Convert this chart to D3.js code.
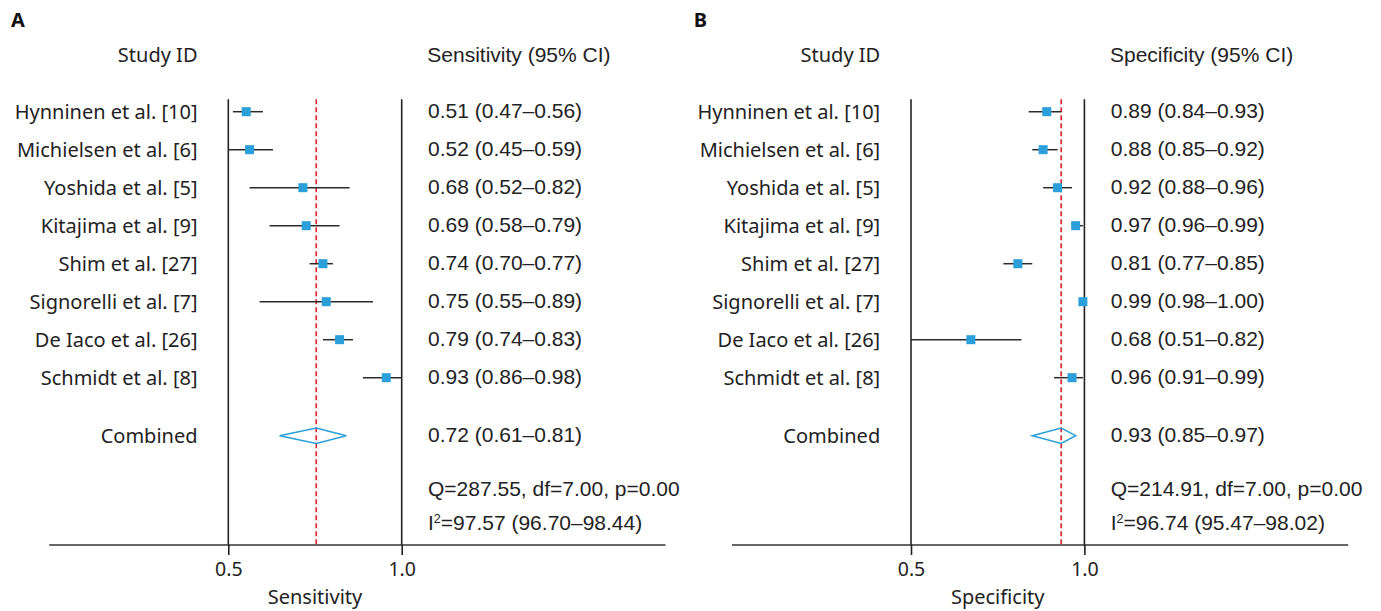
<!DOCTYPE html>
<html>
<head>
<meta charset="utf-8">
<script src="https://cdn.jsdelivr.net/npm/d3@7"></script>
<style>
  html, body { margin: 0; padding: 0; background: #fff; }
  svg { display: block; }
</style>
</head>
<body>
<svg id="chart" width="1381" height="611"></svg>
<script>
// ---------------- DATA ----------------
const studies = ["Hynninen et al. [10]", "Michielsen et al. [6]", "Yoshida et al. [5]", "Kitajima et al. [9]",
                 "Shim et al. [27]", "Signorelli et al. [7]", "De Iaco et al. [26]", "Schmidt et al. [8]"];

const sensEst = [0.51, 0.52, 0.68, 0.69, 0.74, 0.75, 0.79, 0.93];
const sensLo  = [0.47, 0.45, 0.52, 0.58, 0.70, 0.55, 0.74, 0.86];
const sensHi  = [0.56, 0.59, 0.82, 0.79, 0.77, 0.89, 0.83, 0.98];
const sensPooled = [0.72, 0.61, 0.81];   // estimate, low, high
const sensQ = "Q=287.55, df=7.00, p=0.00";
const sensI2 = "=97.57 (96.70–98.44)";

const specEst = [0.89, 0.88, 0.92, 0.97, 0.81, 0.99, 0.68, 0.96];
const specLo  = [0.84, 0.85, 0.88, 0.96, 0.77, 0.98, 0.51, 0.91];
const specHi  = [0.93, 0.92, 0.96, 0.99, 0.85, 1.00, 0.82, 0.99];
const specPooled = [0.93, 0.85, 0.97];
const specQ = "Q=214.91, df=7.00, p=0.00";
const specI2 = "=96.74 (95.47–98.02)";

const tickValues = [0.5, 1.0];
const tickLabels = ["0.5", "1.0"];

// ---------------- DRAWING ----------------
const svg = d3.select("#chart");
const labelFont = "'Noto Sans', 'Open Sans', sans-serif";
const valueFont = "'Liberation Sans', Arial, sans-serif";
const textColor = "#222";
const blue = "#2a9fd9";
const labelSize = 20;
const valueSize = 21;

const fmt = d3.format(".2f");
const ciText = (e, l, h) => `${fmt(e)} (${fmt(l)}–${fmt(h)})`;

const rowY = d3.scalePoint().domain(d3.range(studies.length)).range([111.7, 377.7]);
const pooledY = 435.7;

function panel(cfg) {
  const g = svg.append("g").attr("transform", `translate(${cfg.dx},0)`);
  const axisX = d3.scaleLinear().domain([0.5, 1.0]).range([228.3, 401.7]);
  const dataX = d3.scaleLinear().domain([0.5, 1.0]).range(cfg.dataRange);
  const clampX = v => Math.max(axisX(0.5), Math.min(axisX(1.0), dataX(v)));

  // Panel letter
  g.append("text").attr("x", 11).attr("y", 26.7)
    .attr("font-family", labelFont).attr("font-weight", 700).attr("font-size", 20)
    .attr("fill", "#111").text(cfg.letter);

  // Headers
  g.append("text").attr("x", 197.5).attr("y", 61.7).attr("text-anchor", "end")
    .attr("font-family", labelFont).attr("font-size", labelSize).attr("fill", textColor).text("Study ID");
  g.append("text").attr("x", 427.3).attr("y", 62).attr("font-family", valueFont)
    .attr("font-size", valueSize).attr("fill", textColor).text(cfg.header);

  // Horizontal axis line
  g.append("line").attr("x1", 49.3).attr("x2", 665.5).attr("y1", 545).attr("y2", 545)
    .attr("stroke", "#666").attr("stroke-width", 2);

  // Vertical reference lines at tick values
  g.selectAll(".vref").data(tickValues).enter().append("line")
    .attr("x1", d => axisX(d)).attr("x2", d => axisX(d))
    .attr("y1", 99.3).attr("y2", 545)
    .attr("stroke", "#222").attr("stroke-width", 1.6);

  // Axis ticks and labels
  const axis = d3.axisBottom(axisX).tickValues(tickValues)
    .tickFormat((d, i) => tickLabels[i]).tickSize(10).tickPadding(8);
  const ax = g.append("g").attr("transform", "translate(0,545)").call(axis);
  ax.select(".domain").remove();
  ax.selectAll(".tick line").attr("stroke", "#222").attr("stroke-width", 1.6);
  ax.selectAll(".tick text").attr("font-family", labelFont).attr("font-size", 19.5)
    .attr("fill", textColor).attr("dy", null).attr("y", 30.5);

  // Axis title
  g.append("text").attr("x", (axisX(0.5) + axisX(1.0)) / 2).attr("y", 604)
    .attr("text-anchor", "middle").attr("font-family", labelFont).attr("font-size", labelSize)
    .attr("fill", textColor).text(cfg.axisTitle);

  // Pooled red dashed line
  g.append("line").attr("x1", dataX(cfg.pooled[0])).attr("x2", dataX(cfg.pooled[0]))
    .attr("y1", 99.3).attr("y2", 545)
    .attr("stroke", "#e3202b").attr("stroke-width", 1.6).attr("stroke-dasharray", "5,3");

  const rows = studies.map((s, i) => ({ s, i, e: cfg.est[i], l: cfg.lo[i], h: cfg.hi[i] }));

  // CI lines
  g.selectAll(".ci").data(rows).enter().append("line")
    .attr("x1", d => clampX(d.l)).attr("x2", d => clampX(d.h))
    .attr("y1", d => rowY(d.i)).attr("y2", d => rowY(d.i))
    .attr("stroke", "#2b2b2b").attr("stroke-width", 1.5);

  // Squares
  const sz = 9;
  g.selectAll(".pt").data(rows).enter().append("rect")
    .attr("x", d => dataX(d.e) - sz / 2).attr("y", d => rowY(d.i) - sz / 2)
    .attr("width", sz).attr("height", sz).attr("fill", blue);

  // Study labels
  g.selectAll(".lab").data(rows).enter().append("text")
    .attr("x", 197.5).attr("y", d => rowY(d.i) + 7.3).attr("text-anchor", "end")
    .attr("font-family", labelFont).attr("font-size", labelSize).attr("fill", textColor)
    .text(d => d.s);

  // Value texts
  g.selectAll(".val").data(rows).enter().append("text")
    .attr("x", 428).attr("y", d => rowY(d.i) + 6)
    .attr("font-family", valueFont).attr("font-size", valueSize).attr("fill", textColor)
    .text(d => ciText(d.e, d.l, d.h));

  // Combined
  g.append("text").attr("x", 197.5).attr("y", pooledY + 7.3).attr("text-anchor", "end")
    .attr("font-family", labelFont).attr("font-size", labelSize).attr("fill", textColor).text("Combined");
  const [pe, pl, ph] = cfg.pooled;
  const dh = 7.7;
  g.append("path")
    .attr("d", `M${dataX(pl)},${pooledY} L${dataX(pe)},${pooledY - dh} L${dataX(ph)},${pooledY} L${dataX(pe)},${pooledY + dh} Z`)
    .attr("fill", "none").attr("stroke", blue).attr("stroke-width", 1.5);
  g.append("text").attr("x", 428).attr("y", pooledY + 6)
    .attr("font-family", valueFont).attr("font-size", valueSize).attr("fill", textColor)
    .text(ciText(pe, pl, ph));

  // Heterogeneity
  g.append("text").attr("x", 428).attr("y", 495.5)
    .attr("font-family", valueFont).attr("font-size", valueSize).attr("fill", textColor).text(cfg.q);
  const t = g.append("text").attr("x", 428).attr("y", 530)
    .attr("font-family", valueFont).attr("font-size", valueSize).attr("fill", textColor);
  t.append("tspan").text("I");
  t.append("tspan").attr("font-size", 12.5).attr("dy", -7.5).text("2");
  t.append("tspan").attr("dy", 7.5).text(cfg.i2);
}

panel({
  dx: 0, letter: "A", header: "Sensitivity (95% CI)", axisTitle: "Sensitivity",
  est: sensEst, lo: sensLo, hi: sensHi, pooled: sensPooled, q: sensQ, i2: sensI2,
  dataRange: [242.9, 409.6]
});
panel({
  dx: 682.7, letter: "B", header: "Specificity (95% CI)", axisTitle: "Specificity",
  est: specEst, lo: specLo, hi: specHi, pooled: specPooled, q: specQ, i2: specI2,
  dataRange: [223.1, 403.8]   // panel-local pixel range
});
</script>
</body>
</html>
